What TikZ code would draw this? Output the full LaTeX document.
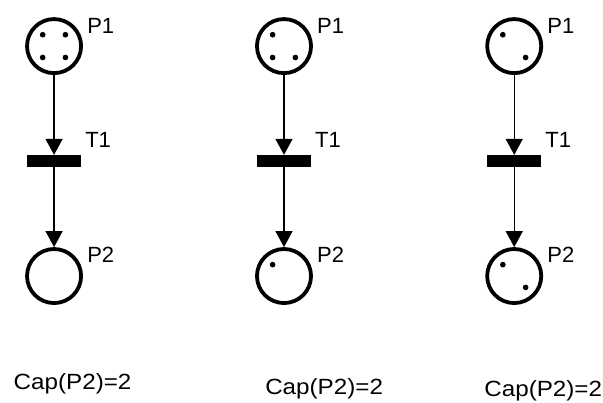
\documentclass[tikz,border=0pt]{standalone}
\usepackage{fontspec}
\setmainfont{Liberation Sans}
\newfontfamily\widefont[FakeStretch=1.1]{Liberation Sans}
\usetikzlibrary{arrows.meta}
\tikzset{
  place/.style = {circle, draw, line width=3.8pt, minimum size=1.9cm, inner sep=0},
  trans/.style = {rectangle, fill=black, minimum width=1.9cm, minimum height=0.42cm, inner sep=0},
  tok/.style   = {circle, fill=black, minimum size=0.2cm, inner sep=0},
  flow/.style  = {line width=1.4pt, -{Triangle[width=17pt,length=16pt]}},
  et/.style    = {font=\fontsize{22}{22}\selectfont, inner sep=0, anchor=base west},
  capl/.style  = {font=\widefont\fontsize{22}{22}\selectfont, inner sep=0, anchor=base}
}
\begin{document}
\begin{tikzpicture}

  \useasboundingbox (0,0) rectangle (21.19,14.16);

  % first net: four tokens in P1
  \node[place] (P1a) at ( 1.90,12.54){}; \node[et] (lp1a) at ( 3.06,13.00) {P1};
  \node[trans] (T1a) at ( 1.90, 8.50){}; \node[et] (lt1a) at ( 2.99, 8.99) {T1};
  \node[place] (P2a) at ( 1.90, 4.46){}; \node[et] (lp2a) at ( 3.06, 4.95) {P2};
  \draw[flow] (P1a) -- (T1a); \draw[flow] (T1a) -- (P2a);
  \node[tok] (a1) at (1.50,12.94){}; \node[tok] (a2) at (2.30,12.94){};
  \node[tok] (a3) at (1.50,12.14){}; \node[tok] (a4) at (2.30,12.14){};
  \node[capl] (ca) at ( 2.55,0.46) {Cap(P2)=2};

  % second net: one token moved to P2
  \node[place] (P1b) at ( 9.98,12.54){}; \node[et] (lp1b) at (11.14,13.00) {P1};
  \node[trans] (T1b) at ( 9.98, 8.50){}; \node[et] (lt1b) at (11.07, 8.99) {T1};
  \node[place] (P2b) at ( 9.98, 4.46){}; \node[et] (lp2b) at (11.14, 4.95) {P2};
  \draw[flow] (P1b) -- (T1b); \draw[flow] (T1b) -- (P2b);
  \node[tok] (b1) at (9.58,12.94){};
  \node[tok] (b2) at (9.58,12.14){}; \node[tok] (b3) at (10.38,12.14){};
  \node[tok] (b4) at (9.58, 4.86){};
  \node[capl] (cb) at (11.39,0.28) {Cap(P2)=2};

  % third net: P2 full
  \node[place] (P1c) at (18.07,12.54){}; \node[et] (lp1c) at (19.23,13.00) {P1};
  \node[trans] (T1c) at (18.07, 8.50){}; \node[et] (lt1c) at (19.16, 8.99) {T1};
  \node[place] (P2c) at (18.07, 4.46){}; \node[et] (lp2c) at (19.23, 4.95) {P2};
  \draw[flow] (P1c) -- (T1c); \draw[flow] (T1c) -- (P2c);
  \node[tok] (c1) at (17.67,12.94){}; \node[tok] (c2) at (18.47,12.14){};
  \node[tok] (c3) at (17.67, 4.86){}; \node[tok] (c4) at (18.47, 4.06){};
  \node[capl] (cc) at (19.09,0.21) {Cap(P2)=2};

\end{tikzpicture}
\end{document}
